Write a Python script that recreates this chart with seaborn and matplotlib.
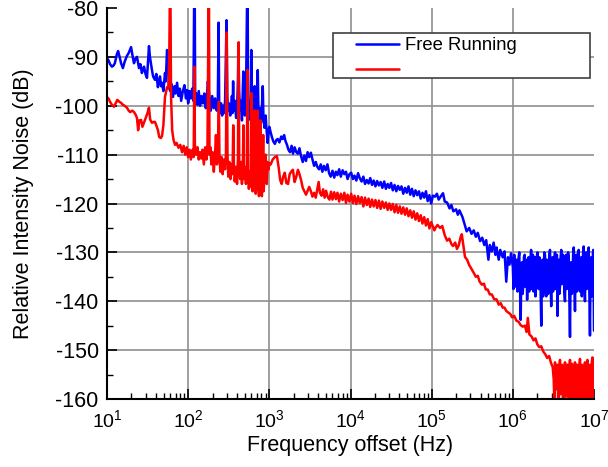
import numpy as np
import pandas as pd
import matplotlib
matplotlib.use("Agg")
import matplotlib.pyplot as plt
import matplotlib.patches as mpatches
import seaborn as sns
from matplotlib.ticker import LogLocator, MultipleLocator, NullFormatter

# ---------------- data (frequency in Hz, RIN in dB) ----------------
free_seg1 = [(10.0,-90.2),(10.5,-90.8),(10.9,-91.5),(11.5,-92.0),(12.0,-91.8),(12.5,-91.3),(13.2,-89.5),(13.7,-88.8),(14.3,-90.0),(14.9,-91.3),(15.7,-92.3),(16.5,-91.0),(17.6,-89.8),(18.5,-89.2),(19.8,-88.0),(20.5,-89.5),(21.5,-91.3),(22.3,-90.5),(23.4,-90.0),(24.8,-92.3),(25.8,-91.5),(26.9,-93.3),(27.8,-92.5),(28.6,-92.0),(29.8,-93.5),(31.1,-94.3),(32.0,-91.0),(32.9,-87.8),(33.8,-90.0),(35.8,-92.7),(37.0,-94.0),(39.0,-94.7),(40.5,-93.5),(42.4,-96.2),(43.5,-95.0),(45.0,-94.0),(46.3,-96.0),(47.6,-95.3),(49.5,-97.0),(51.8,-93.3),(53.0,-95.0),(54.9,-88.6),(56.5,-89.5),(58.0,-96.0),(60.0,-97.0),(62,-95.5),(65,-98.2),(68,-96.0),(70,-97.5),(73,-95.3),(76,-98.0),(79,-96.5),(82,-99.0),(86,-97.0),(90,-95.8),(94,-98.5),(97,-96.8),(100,-99.5),(104,-97.0),(108,-98.5),(112,-96.5),(116,-99.0),(118.5,-78),(120.5,-78),(122,-98.0),(126,-97.5),(130,-99.8),(135,-97.0),(140,-100.0),(146,-98.0),(152,-99.5),(158,-97.5),(165,-100.5),(170,-98.0),(175,-95.0),(180,-97.0),(185,-99.0),(190,-101.0),(198,-98.0),(207,-100.5),(215,-98.5),(225,-101.0),(232,-99.0),(237,-83.0),(241,-99.0),(247,-101.5),(254,-99.5),(262,-102.0),(270,-100.0),(276,-101.5),(285,-99.0),(297,-82.5),(303,-98.0),(310,-101.0),(318,-99.5),(330,-102.0),(340,-100.0),(346,-98.0),(352,-101.5),(358,-95.0),(364,-101.0),(377,-99.0),(390,-102.5),(402,-100.0),(410,-95.0),(416,-88.0),(424,-97.0),(435,-101.0),(446,-99.0),(460,-103.0),(472,-96.0),(478,-93.0),(486,-100.0),(500,-102.0),(515,-99.0),(532,-78),(540,-78),(548,-98.0),(560,-102.0),(575,-100.0),(590,-103.0),(600,-88.6),(610,-99.0),(625,-103.5),(640,-101.0),(660,-96.0),(670,-101.0),(680,-104.0),(700,-101.5),(720,-92.7),(735,-102.0),(750,-104.0),(770,-100.5),(790,-103.5),(806,-101.0),(830,-96.0),(845,-102.0),(870,-104.5),(900,-102.0),(925,-105.0),(954,-107.6),(980,-105.0)]

free_seg2 = [(1000,-104.3),(1040,-105.5),(1080,-106.5),(1120,-107.3),(1170,-107.8),(1220,-107.0),(1270,-106.8),(1330,-107.5),(1400,-106.3),(1460,-106.8),(1520,-106.0),(1580,-107.2),(1650,-108.0),(1720,-109.0),(1800,-109.5),(1880,-108.2),(1960,-109.8),(2050,-108.5),(2150,-109.5),(2250,-109.8),(2350,-108.7),(2460,-110.3),(2580,-111.5),(2700,-110.2),(2830,-111.3),(2960,-109.5),(3100,-110.5),(3250,-109.6),(3400,-111.0),(3560,-112.3),(3730,-111.5),(3900,-112.5),(4100,-113.0),(4300,-112.0),(4500,-113.5),(4700,-112.3),(4950,-113.2),(5200,-112.0),(5450,-113.8),(5700,-114.5),(6000,-113.3),(6300,-114.7),(6600,-113.5),(6900,-114.2),(7250,-113.0),(7600,-114.5),(8000,-113.2),(8400,-114.0),(8800,-113.5),(9200,-115.0),(9700,-114.0),(10200,-113.7),(10700,-115.0),(11200,-114.3),(11800,-115.3),(12400,-113.8),(13000,-114.8),(13700,-115.5),(14400,-114.5),(15100,-116.0),(15900,-115.2),(16700,-115.9),(17500,-114.8),(18400,-116.2),(19300,-115.3),(20300,-116.5),(21300,-115.4),(22400,-116.3),(23500,-115.6),(24700,-116.8),(26000,-115.5),(27300,-117.0),(28700,-116.0),(30100,-116.8),(31600,-115.8),(33200,-117.3),(34900,-116.2),(36700,-117.5),(38500,-116.4),(40500,-117.2),(42500,-116.5),(44700,-118.0),(47000,-116.8),(49300,-117.8),(51800,-116.5),(54500,-118.2),(57200,-117.0),(60100,-118.5),(63200,-117.3),(66400,-118.3),(69700,-117.5),(73300,-119.0),(77000,-117.8),(80900,-118.8),(85000,-117.5),(89300,-119.5),(93800,-118.3),(98600,-120.0),(103600,-118.4)]

free_seg3 = [(1.10e5,-118.6),(1.16e5,-118.0),(1.22e5,-119.2),(1.30e5,-118.5),(1.38e5,-117.9),(1.45e5,-119.6),(1.55e5,-119.8),(1.66e5,-121.0),(1.75e5,-120.3),(1.85e5,-121.6),(2.00e5,-121.2),(2.10e5,-122.3),(2.20e5,-121.4),(2.40e5,-122.8),(2.55e5,-124.3),(2.70e5,-125.7),(2.90e5,-125.0),(3.10e5,-126.2),(3.30e5,-125.5),(3.50e5,-126.8),(3.70e5,-126.0),(3.95e5,-127.7),(4.20e5,-127.0),(4.45e5,-128.5),(4.70e5,-127.5),(5.00e5,-131.5),(5.20e5,-128.5),(5.50e5,-129.8),(5.80e5,-128.0),(6.10e5,-130.5),(6.30e5,-129.0),(6.70e5,-131.5),(7.00e5,-129.5),(7.50e5,-131.0),(7.90e5,-129.8),(8.30e5,-136.0),(8.70e5,-131.0),(9.10e5,-132.5),(9.50e5,-130.2)]

free_seg4 = [(1.00e6,-133.0),(1.02e6,-137.5),(1.04e6,-130.5),(1.06e6,-134.0),(1.08e6,-137.0),(1.10e6,-132.0),(1.12e6,-131.5),(1.14e6,-138.0),(1.16e6,-135.0),(1.18e6,-131.0),(1.20e6,-130.0),(1.22e6,-136.0),(1.25e6,-143.8),(1.27e6,-134.0),(1.30e6,-132.0),(1.32e6,-138.5),(1.35e6,-136.5),(1.37e6,-131.0),(1.40e6,-130.5),(1.42e6,-137.0),(1.45e6,-134.0),(1.47e6,-131.5),(1.50e6,-139.7),(1.53e6,-133.0),(1.56e6,-131.0),(1.59e6,-138.0),(1.62e6,-136.0),(1.65e6,-131.5),(1.68e6,-129.5),(1.71e6,-137.5),(1.74e6,-134.5),(1.77e6,-130.5),(1.80e6,-138.0),(1.83e6,-133.5),(1.87e6,-131.0),(1.90e6,-139.0),(1.94e6,-135.5),(1.97e6,-131.0),(2.01e6,-130.0),(2.04e6,-136.5),(2.08e6,-137.5),(2.12e6,-131.0),(2.16e6,-132.0),(2.20e6,-138.0),(2.24e6,-145.0),(2.28e6,-133.0),(2.32e6,-131.5),(2.36e6,-139.0),(2.40e6,-136.0),(2.44e6,-130.0),(2.49e6,-130.5),(2.53e6,-137.0),(2.58e6,-139.0),(2.62e6,-131.5),(2.67e6,-132.5),(2.72e6,-138.5),(2.77e6,-135.5),(2.82e6,-130.5),(2.87e6,-129.5),(2.92e6,-136.0),(2.97e6,-141.0),(3.02e6,-133.0),(3.08e6,-131.0),(3.13e6,-138.0),(3.19e6,-136.5),(3.25e6,-131.5),(3.31e6,-130.0),(3.37e6,-137.5),(3.43e6,-134.5),(3.49e6,-130.5),(3.55e6,-143.0),(3.61e6,-134.0),(3.68e6,-131.5),(3.74e6,-138.5),(3.81e6,-137.0),(3.88e6,-131.0),(3.95e6,-129.5),(4.02e6,-136.5),(4.09e6,-135.0),(4.16e6,-130.5),(4.24e6,-131.0),(4.31e6,-138.0),(4.39e6,-140.0),(4.47e6,-132.0),(4.55e6,-130.5),(4.63e6,-137.5),(4.71e6,-136.0),(4.79e6,-130.0),(4.88e6,-131.0),(4.97e6,-139.0),(5.06e6,-147.3),(5.15e6,-133.0),(5.24e6,-132.0),(5.33e6,-138.5),(5.43e6,-137.5),(5.53e6,-130.5),(5.63e6,-129.0),(5.73e6,-136.0),(5.83e6,-142.0),(5.93e6,-132.5),(6.04e6,-130.5),(6.15e6,-138.0),(6.26e6,-135.5),(6.37e6,-130.0),(6.48e6,-129.5),(6.60e6,-137.0),(6.72e6,-138.0),(6.84e6,-131.5),(6.96e6,-131.0),(7.08e6,-139.0),(7.21e6,-134.5),(7.34e6,-130.0),(7.47e6,-128.8),(7.60e6,-136.5),(7.74e6,-140.0),(7.88e6,-132.0),(8.02e6,-130.0),(8.16e6,-137.5),(8.31e6,-136.0),(8.46e6,-130.5),(8.61e6,-129.0),(8.76e6,-138.0),(8.92e6,-147.0),(9.08e6,-133.0),(9.24e6,-131.0),(9.40e6,-139.0),(9.57e6,-137.0),(9.70e6,-130.0),(9.80e6,-129.5),(9.90e6,-136.0),(1.00e7,-146.0)]

stab_seg1 = [(10.0,-98.2),(10.5,-98.6),(10.9,-99.2),(11.5,-99.8),(12.2,-100.2),(12.8,-99.5),(13.4,-98.8),(14.2,-99.2),(14.9,-99.4),(15.7,-99.8),(16.5,-100.0),(17.6,-100.4),(18.5,-101.0),(19.3,-101.3),(20.5,-101.0),(21.5,-101.3),(22.5,-101.8),(23.4,-102.5),(24.2,-105.0),(25.0,-103.0),(26.3,-102.9),(27.3,-104.3),(28.5,-103.5),(30.0,-102.5),(31.5,-101.5),(32.9,-100.4),(34.0,-102.8),(35.8,-103.5),(37.5,-103.3),(39.0,-103.3),(40.5,-104.0),(42.4,-105.0),(44.0,-106.4),(46.0,-106.6),(47.6,-106.2),(49.5,-104.0),(51.8,-98.2),(54.9,-96.2),(57.0,-96.5),(58.5,-90.0),(59.5,-78),(60.5,-78),(61.5,-98.0),(63.5,-105.0),(66,-107.0),(69,-108.0),(72,-107.6),(76,-108.6),(80,-108.0),(84,-109.5),(88,-108.2),(92,-110.0),(96,-108.5),(100,-110.5),(104,-109.0),(108,-111.0),(113,-109.0),(117,-110.5),(119,-92.0),(121,-108.0),(125,-110.0),(130,-108.5),(135,-111.0),(140,-109.5),(145,-110.8),(150,-109.0),(156,-112.0),(162,-108.5),(168,-111.0),(173,-108.0),(178.5,-78),(180.5,-78),(183,-110.0),(188,-108.5),(193,-112.0),(200,-109.5),(207,-113.5),(214,-110.0),(220,-106.0),(226,-112.0),(232,-110.0),(239,-99.2),(243,-111.0),(250,-113.5),(258,-110.5),(266,-114.0),(275,-111.0),(285,-113.0),(292,-110.0),(299,-85.0),(305,-110.0),(312,-114.5),(322,-111.5),(332,-115.0),(342,-112.0),(352,-114.0),(359,-104.0),(366,-112.0),(375,-115.5),(388,-112.5),(400,-116.0),(410,-111.0),(419,-87.0),(426,-112.0),(436,-115.0),(448,-111.5),(460,-116.0),(472,-112.0),(479,-104.0),(486,-115.0),(500,-112.5),(515,-116.0),(527,-113.0),(538,-92.7),(546,-113.0),(560,-117.0),(575,-113.5),(590,-116.5),(599,-97.4),(607,-114.0),(620,-117.5),(640,-114.0),(658,-101.0),(667,-115.0),(680,-118.0),(700,-114.5),(718,-101.0),(727,-116.0),(745,-118.5),(765,-114.0),(779,-103.0),(790,-116.0),(810,-118.5),(830,-112.0),(840,-106.0),(850,-117.5),(870,-115.0),(900,-110.0),(930,-116.0),(954,-111.5),(980,-113.0)]

stab_seg2 = [(1000,-111.7),(1040,-112.0),(1100,-111.0),(1170,-110.5),(1240,-110.3),(1300,-112.5),(1360,-115.2),(1420,-116.0),(1480,-114.5),(1550,-113.7),(1620,-115.8),(1700,-116.0),(1780,-114.0),(1860,-113.5),(1950,-113.1),(2050,-115.6),(2150,-114.5),(2250,-113.1),(2350,-114.0),(2460,-115.2),(2580,-116.8),(2700,-117.5),(2830,-118.2),(2960,-117.4),(3100,-116.6),(3250,-117.5),(3400,-118.6),(3560,-117.8),(3730,-118.8),(3900,-117.0),(4050,-115.6),(4200,-117.8),(4400,-118.4),(4600,-117.1),(4800,-118.8),(5000,-117.4),(5250,-118.7),(5500,-119.2),(5750,-117.6),(6000,-119.2),(6300,-117.7),(6600,-119.1),(6900,-117.8),(7250,-119.6),(7600,-118.0),(8000,-119.3),(8400,-117.8),(8800,-119.9),(9200,-118.2),(9700,-119.6),(10200,-118.0),(10700,-119.9),(11200,-118.4),(11800,-120.1),(12400,-118.5),(13000,-119.9),(13700,-118.7),(14400,-120.6),(15100,-118.8),(15900,-120.3),(16700,-119.0),(17500,-120.7),(18400,-119.2),(19300,-120.6),(20300,-119.3),(21300,-120.9),(22400,-119.4),(23500,-121.1),(24700,-119.6),(26000,-120.9),(27300,-119.8),(28700,-121.3),(30100,-120.0),(31600,-121.3),(33200,-120.1),(34900,-121.8),(36700,-120.3),(38500,-121.9),(40500,-120.6),(42500,-122.1),(44700,-120.8),(47000,-122.3),(49300,-121.0),(51800,-122.6),(54500,-121.4),(57200,-122.9),(60100,-121.6),(63200,-123.3),(66400,-122.0),(69700,-123.6),(73300,-122.4),(77000,-124.1),(80900,-122.8),(85000,-124.5),(89300,-123.2),(93800,-125.1),(98600,-123.8)]

stab_seg3 = [(1.03e5,-124.6),(1.08e5,-125.5),(1.11e5,-125.0),(1.18e5,-124.4),(1.27e5,-125.0),(1.35e5,-124.6),(1.45e5,-126.5),(1.55e5,-127.6),(1.65e5,-127.2),(1.75e5,-128.3),(1.83e5,-128.7),(1.95e5,-128.0),(2.05e5,-129.3),(2.15e5,-128.6),(2.28e5,-126.8),(2.35e5,-126.3),(2.45e5,-128.5),(2.57e5,-130.9),(2.75e5,-131.6),(2.90e5,-132.6),(3.10e5,-133.4),(3.30e5,-134.2),(3.50e5,-135.0),(3.70e5,-134.8),(3.90e5,-136.0),(4.15e5,-136.6),(4.40e5,-136.4),(4.65e5,-137.6),(4.90e5,-137.6),(5.20e5,-138.6),(5.50e5,-138.6),(5.90e5,-139.6),(6.30e5,-139.6),(6.70e5,-140.7),(7.10e5,-140.4),(7.50e5,-141.3),(7.90e5,-141.3),(8.30e5,-142.0),(8.80e5,-142.3),(9.30e5,-142.6),(9.80e5,-143.3),(1.04e6,-143.0),(1.11e6,-144.0),(1.18e6,-144.2),(1.25e6,-144.9),(1.33e6,-145.2),(1.41e6,-145.0),(1.48e6,-146.3),(1.53e6,-143.4),(1.60e6,-146.8),(1.70e6,-147.2),(1.80e6,-148.0),(1.90e6,-147.6),(2.00e6,-148.8),(2.12e6,-149.4),(2.24e6,-149.2),(2.37e6,-150.3),(2.50e6,-150.8),(2.65e6,-151.6),(2.80e6,-151.2),(2.95e6,-152.6),(3.10e6,-153.5)]

stab_seg4 = [(3.19e6,-156.0),(3.25e6,-161.0),(3.31e6,-152.5),(3.37e6,-157.0),(3.43e6,-158.0),(3.49e6,-153.5),(3.55e6,-153.0),(3.61e6,-160.0),(3.68e6,-162.0),(3.74e6,-154.0),(3.81e6,-152.0),(3.88e6,-159.0),(3.95e6,-157.0),(4.02e6,-153.0),(4.09e6,-153.5),(4.16e6,-161.0),(4.24e6,-163.0),(4.31e6,-154.0),(4.39e6,-152.5),(4.47e6,-159.5),(4.55e6,-158.5),(4.63e6,-153.0),(4.71e6,-153.0),(4.79e6,-161.0),(4.88e6,-162.0),(4.97e6,-154.0),(5.06e6,-152.0),(5.15e6,-160.0),(5.24e6,-157.5),(5.33e6,-152.8),(5.43e6,-153.5),(5.53e6,-161.0),(5.63e6,-163.0),(5.73e6,-154.0),(5.83e6,-152.5),(5.93e6,-160.0),(6.04e6,-159.0),(6.15e6,-153.0),(6.26e6,-153.0),(6.37e6,-161.0),(6.48e6,-162.0),(6.60e6,-154.0),(6.72e6,-151.8),(6.84e6,-160.0),(6.96e6,-158.0),(7.08e6,-153.0),(7.21e6,-153.2),(7.34e6,-161.0),(7.47e6,-163.0),(7.60e6,-154.0),(7.74e6,-152.5),(7.88e6,-160.0),(8.02e6,-157.5),(8.16e6,-153.0),(8.31e6,-152.0),(8.46e6,-161.0),(8.61e6,-162.0),(8.76e6,-154.0),(8.92e6,-153.0),(9.08e6,-160.0),(9.24e6,-158.5),(9.40e6,-152.5),(9.57e6,-151.5),(9.70e6,-161.0),(9.80e6,-161.0),(9.90e6,-153.0),(1.00e7,-152.5)]

legend_labels = ["Free Running", ""]
y_ticks = [-160, -150, -140, -130, -120, -110, -100, -90, -80]
x_label = "Frequency offset (Hz)"
y_label = "Relative Intensity Noise (dB)"


def to_frame(*segs):
    pts = [p for s in segs for p in s]
    return pd.DataFrame(pts, columns=["freq", "db"])


df_free = to_frame(free_seg1, free_seg2, free_seg3, free_seg4)
df_stab = to_frame(stab_seg1, stab_seg2, stab_seg3, stab_seg4)

# ---------------- styling ----------------
sns.set_theme(style="white")
plt.rcParams["font.family"] = ["Liberation Sans", "DejaVu Sans"]
plt.rcParams["mathtext.default"] = "regular"
plt.rcParams["axes.unicode_minus"] = False
plt.rcParams["text.color"] = "black"
plt.rcParams["axes.labelcolor"] = "black"
plt.rcParams["xtick.color"] = "black"
plt.rcParams["ytick.color"] = "black"

fig = plt.figure(figsize=(6.08, 4.67), dpi=100)
ax = fig.add_axes([107 / 608, 1 - 399 / 467, 487 / 608, 391 / 467])
ax.set_xscale("log")

sns.lineplot(data=df_free, x="freq", y="db", color="#0000ff", lw=1.8,
             estimator=None, sort=False, ax=ax)
sns.lineplot(data=df_stab, x="freq", y="db", color="#ff0000", lw=1.8,
             estimator=None, sort=False, ax=ax)

ax.set_xlim(10, 1e7)
ax.set_ylim(-160, -80)
ax.set_yticks(y_ticks)
ax.yaxis.set_minor_locator(MultipleLocator(5))
ax.xaxis.set_major_locator(LogLocator(base=10, numticks=12))
ax.xaxis.set_minor_locator(LogLocator(base=10, subs=np.arange(2, 10), numticks=12))
ax.xaxis.set_minor_formatter(NullFormatter())

ax.tick_params(which="major", direction="in", length=7, width=1.2,
               color="black", labelcolor="black")
ax.tick_params(axis="y", which="major", pad=6, labelsize=15.5)
ax.tick_params(axis="x", which="major", pad=7, labelsize=14)
ax.tick_params(which="minor", direction="in", length=4, width=1.0, color="black")
ax.tick_params(bottom=True, left=True, which="both")

for side in ["top", "right"]:
    ax.spines[side].set_visible(False)
for side in ["left", "bottom"]:
    ax.spines[side].set_color("black")
    ax.spines[side].set_linewidth(1.5)

ax.grid(True, which="major", color="#8f8f8f", lw=1.2)
ax.set_axisbelow(True)

ax.set_xlabel(x_label, fontsize=15.5, labelpad=3)
ax.set_ylabel(y_label, fontsize=15.5, labelpad=15)

# legend frame (wider than its contents, as in the reference)
frame = mpatches.Rectangle((0.464, 0.821), 0.528, 0.115, transform=ax.transAxes,
                           facecolor="white", edgecolor="#404040", lw=1.2,
                           zorder=5)
ax.add_patch(frame)

lines = ax.get_lines()
leg = ax.legend(handles=[lines[0], lines[1]], labels=legend_labels,
                loc="upper left", bbox_to_anchor=(0.511, 0.925),
                fontsize=13.3, frameon=False, handlelength=2.35,
                handletextpad=0.3, borderpad=0.0, labelspacing=0.42,
                borderaxespad=0)
leg.set_zorder(6)
for t in leg.get_texts():
    t.set_color("black")

fig.canvas.draw()
for tick in ax.yaxis.get_major_ticks():
    if abs(tick.get_loc() - (-80)) < 1e-6:
        tick.gridline.set_visible(False)
for tick in ax.xaxis.get_major_ticks():
    if abs(tick.get_loc() - 1e7) / 1e7 < 1e-6:
        tick.gridline.set_visible(False)

fig.savefig("out.png", dpi=100)
